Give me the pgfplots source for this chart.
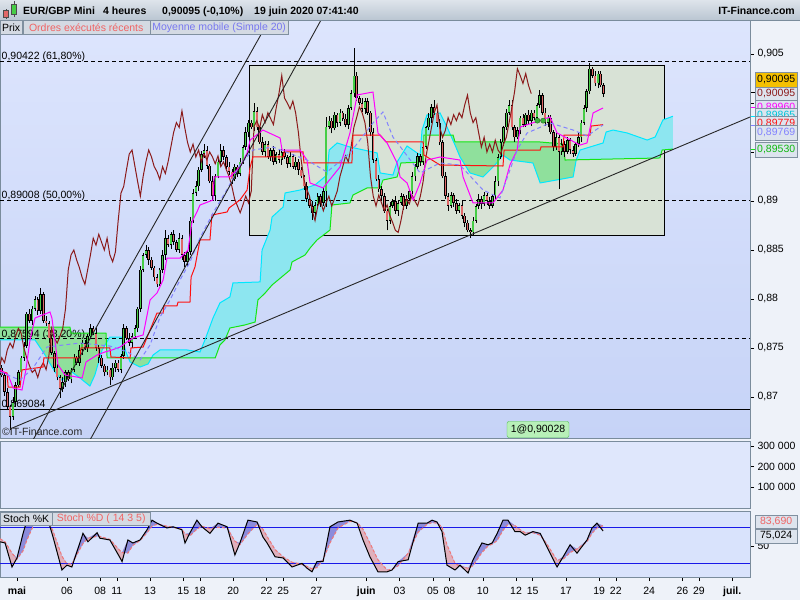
\documentclass[border=0pt]{standalone}
\usepackage{fontspec}
\setmainfont{Liberation Sans}
\usepackage{pgfplots}
\pgfplotsset{compat=1.18}
\usepackage{pgfplotstable}

\definecolor{outerbg}{RGB}{238,242,249}
\definecolor{hdrtop}{RGB}{222,228,235}
\definecolor{hdrbot}{RGB}{186,198,210}
\definecolor{panelborder}{RGB}{122,140,156}
\definecolor{bgtop}{RGB}{221,229,253}
\definecolor{bgbot}{RGB}{198,211,247}
\definecolor{volbg}{RGB}{223,231,252}
\definecolor{stochbg}{RGB}{217,227,252}
\definecolor{rectfill}{RGB}{216,226,214}
\definecolor{cloudcyan}{RGB}{141,230,240}
\definecolor{cloudgreen}{RGB}{143,224,156}
\definecolor{spanAcol}{RGB}{0,232,255}
\definecolor{spanBcol}{RGB}{20,230,20}
\definecolor{chikou}{RGB}{139,26,26}
\definecolor{kijun}{RGB}{255,16,16}
\definecolor{tenkan}{RGB}{255,0,255}
\definecolor{smacol}{RGB}{130,130,255}
\definecolor{cgreen}{RGB}{70,205,70}
\definecolor{cred}{RGB}{224,104,104}
\definecolor{stochblue}{RGB}{140,140,220}
\definecolor{stochpink}{RGB}{224,176,188}
\definecolor{stochD}{RGB}{240,120,120}
\definecolor{levelblue}{RGB}{24,24,232}
\definecolor{boxfill}{RGB}{221,228,238}
\definecolor{boxborder}{RGB}{128,144,160}
\definecolor{gold}{RGB}{245,192,0}
\definecolor{ordgreen}{RGB}{184,240,184}
\definecolor{ordgreenb}{RGB}{80,192,80}
\definecolor{dotgreen}{RGB}{60,180,60}
\definecolor{legred}{RGB}{240,100,100}
\definecolor{legblue}{RGB}{120,120,240}

\newcommand{\lab}{\fontsize{10.5pt}{12pt}\selectfont}

% 4h candles, k = candle index (0 = 1 May 00:00)
\pgfplotstableread{
k o h l c
-6 0.8730 0.8733 0.8720 0.8722
-5 0.8722 0.8724 0.8701 0.8705
-4 0.8705 0.8709 0.8687 0.8690
-3 0.8690 0.8692 0.8666 0.8680
-2 0.8680 0.8700 0.8677 0.8695
-1 0.8695 0.8715 0.8690 0.8712
0 0.8712 0.8728 0.8710 0.8725
1 0.8725 0.8742 0.8721 0.8740
2 0.8740 0.8756 0.8737 0.8752
3 0.8752 0.8787 0.8750 0.8785
4 0.8785 0.8790 0.8775 0.8778
5 0.8778 0.8793 0.8773 0.8790
6 0.8790 0.8803 0.8788 0.8800
7 0.8800 0.8802 0.8784 0.8788
8 0.8788 0.8811 0.8785 0.8805
9 0.8805 0.8807 0.8776 0.8778
10 0.8778 0.8783 0.8772 0.8775
11 0.8775 0.8778 0.8755 0.8760
12 0.8760 0.8763 0.8743 0.8745
13 0.8745 0.8747 0.8726 0.8730
14 0.8730 0.8734 0.8717 0.8720
15 0.8720 0.8722 0.8699 0.8708
16 0.8708 0.8720 0.8705 0.8715
17 0.8715 0.8728 0.8710 0.8725
18 0.8725 0.8728 0.8716 0.8718
19 0.8718 0.8730 0.8714 0.8728
20 0.8728 0.8744 0.8725 0.8740
21 0.8740 0.8742 0.8733 0.8735
22 0.8735 0.8753 0.8732 0.8748
23 0.8748 0.8758 0.8743 0.8755
24 0.8755 0.8758 0.8748 0.8750
25 0.8750 0.8764 0.8746 0.8762
26 0.8762 0.8774 0.8759 0.8770
27 0.8770 0.8772 0.8763 0.8765
28 0.8765 0.8770 0.8747 0.8750
29 0.8750 0.8753 0.8735 0.8740
30 0.8740 0.8743 0.8730 0.8732
31 0.8732 0.8734 0.8721 0.8725
32 0.8725 0.8732 0.8722 0.8728
33 0.8728 0.8730 0.8712 0.8720
34 0.8720 0.8735 0.8717 0.8730
35 0.8730 0.8738 0.8725 0.8735
36 0.8735 0.8738 0.8726 0.8728
37 0.8728 0.8744 0.8724 0.8742
38 0.8742 0.8774 0.8739 0.8770
39 0.8770 0.8772 0.8758 0.8760
40 0.8760 0.8765 0.8752 0.8755
41 0.8755 0.8765 0.8750 0.8762
42 0.8762 0.8773 0.8760 0.8770
43 0.8770 0.8792 0.8766 0.8790
44 0.8790 0.8834 0.8787 0.8830
45 0.8830 0.8847 0.8828 0.8845
46 0.8845 0.8855 0.8842 0.8850
47 0.8850 0.8853 0.8835 0.8840
48 0.8840 0.8843 0.8830 0.8832
49 0.8832 0.8834 0.8818 0.8822
50 0.8822 0.8826 0.8812 0.8815
51 0.8815 0.8832 0.8813 0.8830
52 0.8830 0.8850 0.8827 0.8845
53 0.8845 0.8870 0.8840 0.8862
54 0.8862 0.8865 0.8853 0.8855
55 0.8855 0.8868 0.8851 0.8866
56 0.8866 0.8870 0.8855 0.8858
57 0.8858 0.8860 0.8848 0.8850
58 0.8850 0.8867 0.8847 0.8862
59 0.8862 0.8865 0.8840 0.8845
60 0.8845 0.8848 0.8833 0.8838
61 0.8838 0.8850 0.8834 0.8848
62 0.8848 0.8884 0.8845 0.8880
63 0.8880 0.8912 0.8878 0.8908
64 0.8908 0.8920 0.8905 0.8915
65 0.8915 0.8935 0.8910 0.8932
66 0.8932 0.8951 0.8930 0.8948
67 0.8948 0.8958 0.8944 0.8952
68 0.8952 0.8956 0.8933 0.8936
69 0.8936 0.8938 0.8918 0.8920
70 0.8920 0.8925 0.8900 0.8905
71 0.8905 0.8928 0.8900 0.8925
72 0.8925 0.8943 0.8923 0.8940
73 0.8940 0.8958 0.8936 0.8952
74 0.8952 0.8956 0.8942 0.8945
75 0.8945 0.8947 0.8933 0.8935
76 0.8935 0.8940 0.8927 0.8930
77 0.8930 0.8933 0.8917 0.8922
78 0.8922 0.8938 0.8920 0.8935
79 0.8935 0.8937 0.8924 0.8928
80 0.8928 0.8944 0.8925 0.8940
81 0.8940 0.8957 0.8938 0.8955
82 0.8955 0.8975 0.8952 0.8970
83 0.8970 0.8983 0.8965 0.8980
84 0.8980 0.8983 0.8973 0.8975
85 0.8975 0.9000 0.8971 0.8992
86 0.8992 0.8996 0.8972 0.8975
87 0.8975 0.8977 0.8958 0.8960
88 0.8960 0.8965 0.8947 0.8950
89 0.8950 0.8961 0.8945 0.8958
90 0.8958 0.8961 0.8943 0.8945
91 0.8945 0.8954 0.8941 0.8952
92 0.8952 0.8956 0.8937 0.8940
93 0.8940 0.8950 0.8938 0.8948
94 0.8948 0.8953 0.8939 0.8942
95 0.8942 0.8953 0.8937 0.8950
96 0.8950 0.8953 0.8943 0.8945
97 0.8945 0.8947 0.8934 0.8938
98 0.8938 0.8950 0.8935 0.8946
99 0.8946 0.8948 0.8933 0.8935
100 0.8935 0.8945 0.8932 0.8940
101 0.8940 0.8943 0.8927 0.8932
102 0.8932 0.8935 0.8923 0.8925
103 0.8925 0.8927 0.8911 0.8915
104 0.8915 0.8919 0.8899 0.8902
105 0.8902 0.8904 0.8893 0.8895
106 0.8895 0.8900 0.8881 0.8888
107 0.8888 0.8899 0.8883 0.8896
108 0.8896 0.8908 0.8894 0.8905
109 0.8905 0.8907 0.8894 0.8898
110 0.8898 0.8914 0.8895 0.8910
111 0.8910 0.8986 0.8894 0.8976
112 0.8976 0.8987 0.8973 0.8982
113 0.8982 0.8985 0.8969 0.8974
114 0.8974 0.8991 0.8972 0.8988
115 0.8988 0.8990 0.8976 0.8980
116 0.8980 0.8994 0.8977 0.8990
117 0.8990 0.8992 0.8982 0.8984
118 0.8984 0.8989 0.8975 0.8978
119 0.8978 0.8998 0.8973 0.8995
120 0.8995 0.9013 0.8993 0.9010
121 0.9010 0.9056 0.9006 0.9028
122 0.9028 0.9032 0.9002 0.9005
123 0.9005 0.9007 0.8998 0.9000
124 0.9000 0.9005 0.8991 0.8994
125 0.8994 0.9005 0.8989 0.9002
126 0.9002 0.9005 0.8988 0.8990
127 0.8990 0.8992 0.8966 0.8970
128 0.8970 0.8974 0.8939 0.8942
129 0.8942 0.8944 0.8920 0.8922
130 0.8922 0.8927 0.8909 0.8912
131 0.8912 0.8915 0.8900 0.8905
132 0.8905 0.8908 0.8888 0.8890
133 0.8890 0.8892 0.8870 0.8880
134 0.8880 0.8899 0.8877 0.8895
135 0.8895 0.8902 0.8893 0.8900
136 0.8900 0.8905 0.8887 0.8890
137 0.8890 0.8901 0.8885 0.8898
138 0.8898 0.8908 0.8896 0.8905
139 0.8905 0.8907 0.8891 0.8895
140 0.8895 0.8906 0.8892 0.8902
141 0.8902 0.8912 0.8900 0.8910
142 0.8910 0.8930 0.8907 0.8925
143 0.8925 0.8938 0.8920 0.8935
144 0.8935 0.8949 0.8933 0.8946
145 0.8946 0.8948 0.8936 0.8940
146 0.8940 0.8959 0.8937 0.8955
147 0.8955 0.8977 0.8953 0.8975
148 0.8975 0.8990 0.8972 0.8985
149 0.8985 0.8999 0.8980 0.8996
150 0.8996 0.9003 0.8988 0.8990
151 0.8990 0.8992 0.8976 0.8980
152 0.8980 0.8984 0.8957 0.8960
153 0.8960 0.8962 0.8923 0.8925
154 0.8925 0.8930 0.8902 0.8905
155 0.8905 0.8908 0.8890 0.8895
156 0.8895 0.8909 0.8893 0.8906
157 0.8906 0.8908 0.8894 0.8898
158 0.8898 0.8902 0.8887 0.8890
159 0.8890 0.8898 0.8888 0.8896
160 0.8896 0.8901 0.8882 0.8885
161 0.8885 0.8888 0.8873 0.8878
162 0.8878 0.8881 0.8868 0.8870
163 0.8870 0.8872 0.8862 0.8868
164 0.8868 0.8884 0.8865 0.8880
165 0.8880 0.8897 0.8878 0.8895
166 0.8895 0.8907 0.8892 0.8902
167 0.8902 0.8905 0.8892 0.8897
168 0.8897 0.8909 0.8895 0.8906
169 0.8906 0.8908 0.8896 0.8900
170 0.8900 0.8904 0.8892 0.8895
171 0.8895 0.8907 0.8893 0.8905
172 0.8905 0.8925 0.8902 0.8920
173 0.8920 0.8948 0.8915 0.8945
174 0.8945 0.8963 0.8943 0.8960
175 0.8960 0.8977 0.8956 0.8975
176 0.8975 0.8994 0.8972 0.8990
177 0.8990 0.9003 0.8988 0.8998
178 0.8998 0.9003 0.8972 0.8975
179 0.8975 0.8978 0.8960 0.8965
180 0.8965 0.8975 0.8963 0.8972
181 0.8972 0.8987 0.8968 0.8985
182 0.8985 0.8989 0.8975 0.8978
183 0.8978 0.8990 0.8976 0.8988
184 0.8988 0.8993 0.8979 0.8982
185 0.8982 0.8993 0.8977 0.8990
186 0.8990 0.8993 0.8983 0.8985
187 0.8985 0.9000 0.8981 0.8998
188 0.8998 0.9013 0.8995 0.9008
189 0.9008 0.9010 0.8988 0.8990
190 0.8990 0.8995 0.8977 0.8980
191 0.8980 0.8988 0.8975 0.8985
192 0.8985 0.8988 0.8968 0.8970
193 0.8970 0.8972 0.8951 0.8955
194 0.8955 0.8969 0.8952 0.8965
195 0.8965 0.8967 0.8912 0.8950
196 0.8950 0.8963 0.8947 0.8958
197 0.8958 0.8961 0.8945 0.8950
198 0.8950 0.8965 0.8948 0.8962
199 0.8962 0.8964 0.8948 0.8952
200 0.8952 0.8956 0.8945 0.8948
201 0.8948 0.8960 0.8946 0.8958
202 0.8958 0.8970 0.8955 0.8965
203 0.8965 0.8983 0.8960 0.8980
204 0.8980 0.8998 0.8978 0.8995
205 0.8995 0.9014 0.8991 0.9012
206 0.9012 0.9041 0.9009 0.9035
207 0.9035 0.9037 0.9026 0.9028
208 0.9028 0.9033 0.9017 0.9020
209 0.9020 0.9033 0.9015 0.9030
210 0.9030 0.9033 0.9016 0.9018
211 0.9018 0.9020 0.9006 0.90095
}\candles

% Kijun (red)
\pgfplotstableread{
k p
-6.6 0.87265
-4.1 0.87245
-3.7 0.87102
0.6 0.87102
1.3 0.87276
8.9 0.87306
9.2 0.87398
22.2 0.87398
22.6 0.87500
33.0 0.87500
33.4 0.87408
40.3 0.87398
40.6 0.87500
45.0 0.87510
47.5 0.87684
50.0 0.87857
52.2 0.87857
52.5 0.87929
57.2 0.87929
57.6 0.87969
61.9 0.87969
62.3 0.88224
63.7 0.88327
65.5 0.88602
69.1 0.88602
69.8 0.88857
75.3 0.88888
76.0 0.88929
79.9 0.89010
82.5 0.89112
83.6 0.89347
84.6 0.89449
95.5 0.89449
95.8 0.89500
102.7 0.89500
103.0 0.89388
120.3 0.89388
120.7 0.89673
130.5 0.89673
132.6 0.89602
146.0 0.89602
146.3 0.89469
152.1 0.89367
174.8 0.89357
175.2 0.89520
188.2 0.89520
188.5 0.89551
196.5 0.89551
196.8 0.89673
206.2 0.89673
206.6 0.89765
210.9 0.89779
}\kijun

% Tenkan (magenta)
\pgfplotstableread{
k p
-6.6 0.87276
-3.7 0.87225
-1.9 0.87092
1.3 0.87071
2.7 0.87276
4.2 0.87582
6.0 0.87806
11.4 0.87867
12.1 0.87806
14.3 0.87327
16.8 0.87225
23.0 0.87194
24.4 0.87357
28.4 0.87429
31.2 0.87459
33.8 0.87480
36.7 0.87510
39.2 0.87561
41.3 0.87602
45.0 0.87633
47.5 0.87990
50.0 0.88061
52.2 0.88194
53.6 0.88418
58.3 0.88418
61.2 0.88500
62.6 0.88786
64.4 0.88888
65.5 0.88959
70.2 0.89010
70.6 0.89245
76.3 0.89245
79.9 0.89347
82.5 0.89490
83.6 0.89622
88.2 0.89724
94.4 0.89643
95.1 0.89520
101.6 0.89520
104.1 0.89418
105.2 0.89184
109.9 0.89133
116.0 0.89347
119.6 0.89694
122.2 0.90082
127.9 0.90112
129.7 0.89694
133.0 0.89592
136.6 0.89388
137.7 0.89245
140.2 0.89184
142.4 0.89010
144.9 0.89184
147.4 0.89418
152.1 0.89449
159.3 0.89418
160.4 0.89245
164.0 0.88980
171.2 0.88980
174.8 0.89112
177.3 0.89367
179.9 0.89520
181.0 0.89755
191.8 0.89857
194.3 0.89694
202.6 0.89571
205.1 0.89592
207.3 0.89898
210.9 0.89949
}\tenkan

% SMA 20 (dashed)
\pgfplotstableread{
k p
-6.6 0.87255
0.6 0.87173
5.3 0.87296
10.3 0.87510
22.2 0.87551
33.0 0.87520
39.5 0.87459
43.9 0.87378
47.5 0.87531
51.1 0.87816
54.7 0.87990
58.3 0.88194
61.9 0.88378
65.5 0.88622
70.2 0.88878
75.6 0.89133
79.9 0.89367
84.6 0.89520
91.8 0.89551
104.1 0.89418
111.3 0.89296
119.6 0.89490
127.9 0.89796
131.5 0.89908
135.1 0.89653
144.9 0.89286
152.1 0.89388
159.3 0.89367
167.6 0.89112
173.7 0.89031
179.9 0.89520
183.5 0.89694
191.8 0.89796
200.1 0.89724
205.1 0.89663
210.9 0.89776
}\smaline

% Senkou span A (cyan)
\pgfplotstableread{
k p
-6.6 0.87582
6.0 0.87582
9.6 0.87429
13.2 0.87255
15.7 0.87173
19.3 0.87255
22.2 0.87194
25.8 0.87112
27.6 0.87225
30.2 0.87480
33.0 0.87612
37.4 0.87612
38.8 0.87459
40.3 0.87357
43.9 0.87306
46.8 0.87337
48.6 0.87429
51.1 0.87480
60.8 0.87480
65.5 0.87459
67.3 0.87582
70.2 0.87806
72.7 0.87960
76.3 0.88021
77.4 0.88164
87.2 0.88174
87.9 0.88500
90.8 0.88704
91.5 0.88837
95.5 0.88939
96.2 0.89082
101.6 0.89112
107.0 0.89164
111.3 0.89265
112.1 0.89520
115.0 0.89592
119.6 0.89551
129.4 0.89490
130.5 0.89286
135.1 0.89265
136.6 0.89398
140.2 0.89561
144.9 0.89469
145.6 0.89724
147.4 0.89878
152.1 0.89898
154.6 0.89755
157.5 0.89571
159.3 0.89449
162.9 0.89286
167.6 0.89245
171.9 0.89367
174.8 0.89469
177.3 0.89418
185.6 0.89388
188.2 0.89184
200.1 0.89245
201.2 0.89418
202.6 0.89520
210.9 0.89592
212.0 0.89704
214.5 0.89724
219.6 0.89694
226.8 0.89622
229.7 0.89653
232.5 0.89827
236.1 0.89865
}\spanA

% Senkou span B (green)
\pgfplotstableread{
k p
-6.6 0.87714
18.6 0.87714
19.0 0.87653
31.6 0.87653
32.0 0.87398
71.0 0.87398
72.7 0.87531
74.5 0.87582
76.3 0.87704
81.7 0.87735
85.4 0.87765
86.4 0.87990
89.0 0.88061
91.5 0.88143
98.0 0.88296
98.7 0.88378
103.4 0.88449
105.2 0.88520
107.7 0.88602
112.4 0.88704
113.1 0.88959
119.6 0.88980
120.7 0.89061
125.8 0.89133
130.5 0.89133
131.5 0.89214
136.6 0.89245
138.0 0.89388
146.0 0.89398
146.3 0.89673
156.8 0.89673
157.5 0.89602
188.2 0.89602
196.5 0.89582
197.2 0.89418
231.4 0.89439
232.2 0.89520
236.1 0.89530
}\spanB

% Stochastic %K and %D
\pgfplotstableread{
k K D
-6.6 57 62
-4.8 55 57
-2.3 15 38
-0.5 30 28
1.7 71 42
3.1 93 60
6.0 97 90
8.5 95 94
10.7 93 91
12.5 65 75
15.7 10 33
17.5 18 20
19.3 15 20
23.3 71 54
25.1 57 63
28.4 72 66
29.4 63 66
33.0 60 61
36.7 30 42
37.4 24 39
39.5 60 38
41.3 55 51
43.9 60 59
46.4 77 72
48.2 93 83
50.0 88 86
53.6 80 83
55.8 82 81
59.0 77 78
60.1 55 70
61.9 72 67
64.4 93 78
66.2 82 83
69.1 71 79
72.0 88 81
75.3 82 80
78.1 35 58
79.9 55 52
82.8 93 70
86.1 90 86
88.2 65 78
89.7 55 66
92.6 32 44
95.5 30 32
98.7 15 23
102.3 21 19
104.1 13 16
105.9 7 12
107.7 24 14
109.9 24 27
112.4 82 55
115.3 90 80
119.6 93 91
122.2 88 89
124.3 60 78
126.8 32 55
129.7 7 27
133.0 7 10
134.8 10 11
137.0 24 17
140.6 27 38
144.2 88 73
147.4 88 86
149.2 93 89
151.0 90 88
152.8 74 82
154.6 18 52
157.5 10 21
159.3 18 16
162.2 5 13
164.0 27 17
167.2 55 39
169.4 52 50
170.9 55 53
172.7 71 59
174.8 93 76
176.6 93 86
179.1 74 84
181.0 74 77
182.8 68 72
185.6 74 72
188.2 71 68
190.7 48 53
194.3 15 26
196.5 32 28
199.0 52 39
201.5 38 45
205.1 60 57
206.9 80 71
208.7 88 80
210.9 75 84
}\stoch

\pgfplotsset{
  stochframe/.style={
    at={(0pt,23pt)}, anchor=south west,
    scale only axis, width=750pt, height=66pt,
    xmin=-6.63, xmax=263.9, ymin=-1.7, ymax=108.3},
}

\begin{document}
\begin{tikzpicture}
\path[use as bounding box] (0pt,0pt) rectangle (800pt,600pt);
\fill[outerbg] (0pt,0pt) rectangle (800pt,600pt);

% ---------- price panel ----------
\begin{axis}[
  at={(0pt,162pt)}, anchor=south west,
  scale only axis, width=750pt, height=418pt,
  xmin=-6.63, xmax=263.9, ymin=0.865816, ymax=0.908469,
  axis background/.style={shade, top color=bgtop, bottom color=bgbot},
  axis line style={draw=panelborder, line width=1pt},
  xtick=\empty,
  ytick pos=right, tick align=outside, major tick length=4pt,
  tick style={black, line width=0.5pt},
  ytick={0.87,0.875,0.88,0.885,0.89,0.895,0.9,0.905},
  yticklabels={{0,87},{0,875},{0,88},{0,885},{0,89},{0,895},{0,9},{0,905}},
  yticklabel style={font=\lab, text=black},
]
% rectangle zone
\addplot[fill=rectfill, draw=black, line width=0.9pt]
  coordinates {(83.2,0.886531) (232.9,0.886531) (232.9,0.903878) (83.2,0.903878) (83.2,0.886531)};
% ichimoku cloud, one polygon per region between the crossings of span A and span B
\addplot[fill=cloudgreen, draw=none] coordinates {
  (-6.6,0.87714) (18.6,0.87714) (19.0,0.87653) (31.6,0.87653) (31.76,0.87554)
  (30.2,0.87480) (27.6,0.87225) (25.8,0.87112) (22.2,0.87194) (19.3,0.87255) (15.7,0.87173)
  (13.2,0.87255) (9.6,0.87429) (6.0,0.87582) (-6.6,0.87582)};
\addplot[fill=cloudcyan, draw=none] coordinates {
  (31.76,0.87554) (33.0,0.87612) (37.4,0.87612) (38.8,0.87459) (39.70,0.87398) (32.0,0.87398)};
\addplot[fill=cloudgreen, draw=none] coordinates {
  (39.70,0.87398) (47.99,0.87398) (46.8,0.87337) (43.9,0.87306) (40.3,0.87357)};
\addplot[fill=cloudcyan, draw=none] coordinates {
  (47.99,0.87398) (48.6,0.87429) (51.1,0.87480) (60.8,0.87480) (65.5,0.87459) (67.3,0.87582)
  (70.2,0.87806) (72.7,0.87960) (76.3,0.88021) (77.4,0.88164) (87.2,0.88174) (87.9,0.88500)
  (90.8,0.88704) (91.5,0.88837) (95.5,0.88939) (96.2,0.89082) (101.6,0.89112) (107.0,0.89164)
  (111.3,0.89265) (112.1,0.89520) (115.0,0.89592) (119.6,0.89551) (129.4,0.89490) (130.5,0.89286)
  (135.1,0.89265) (136.6,0.89398) (140.2,0.89561) (144.9,0.89469) (145.6,0.89724) (147.4,0.89878)
  (152.1,0.89898) (154.6,0.89755) (155.89,0.89673)
  (146.3,0.89673) (146.0,0.89398) (138.0,0.89388) (136.6,0.89245) (131.5,0.89214) (130.5,0.89133)
  (125.8,0.89133) (120.7,0.89061) (119.6,0.88980) (113.1,0.88959) (112.4,0.88704) (107.7,0.88602)
  (105.2,0.88520) (103.4,0.88449) (98.7,0.88378) (98.0,0.88296) (91.5,0.88143) (89.0,0.88061)
  (86.4,0.87990) (85.4,0.87765) (81.7,0.87735) (76.3,0.87704) (74.5,0.87582) (72.7,0.87531)
  (71.0,0.87398)};
\addplot[fill=cloudgreen, draw=none] coordinates {
  (155.89,0.89673) (156.8,0.89673) (157.5,0.89602) (188.2,0.89602) (196.5,0.89582) (197.2,0.89418)
  (201.23,0.89420) (200.1,0.89245) (188.2,0.89184) (185.6,0.89388) (177.3,0.89418) (174.8,0.89469)
  (171.9,0.89367) (167.6,0.89245) (162.9,0.89286) (159.3,0.89449) (157.5,0.89571)};
\addplot[fill=cloudcyan, draw=none] coordinates {
  (201.23,0.89420) (202.6,0.89520) (210.9,0.89592) (212.0,0.89704) (214.5,0.89724) (219.6,0.89694)
  (226.8,0.89622) (229.7,0.89653) (232.5,0.89827) (236.1,0.89865) (236.1,0.89530) (232.2,0.89520)
  (231.4,0.89439)};
% fibonacci / support lines
\addplot[black, line width=0.8pt, dash pattern=on 4pt off 3pt] coordinates {(-6.63,0.90422) (263.9,0.90422)};
\addplot[black, line width=0.8pt, dash pattern=on 4pt off 3pt] coordinates {(-6.63,0.89008) (263.9,0.89008)};
\addplot[black, line width=0.8pt, dash pattern=on 4pt off 3pt] coordinates {(-6.63,0.87594) (263.9,0.87594)};
\addplot[black, line width=0.8pt] coordinates {(-6.63,0.86878) (263.9,0.86878)};
\node[anchor=base west, inner sep=0pt, font=\lab] at (axis cs:-6.09,0.90439) {0,90422 (61,80\%)};
\node[anchor=base west, inner sep=0pt, font=\lab] at (axis cs:-6.09,0.89025) {0,89008 (50,00\%)};
\node[anchor=base west, inner sep=0pt, font=\lab] at (axis cs:-6.09,0.87612) {0,87594 (38,20\%)};
\node[anchor=base west, inner sep=0pt, font=\lab] at (axis cs:-6.09,0.86893) {0,869084};
% span lines
\addplot[spanAcol, line width=1pt] table[x=k,y=p]{\spanA};
\addplot[spanBcol, line width=1pt] table[x=k,y=p]{\spanB};
% candles: wicks, outlines, bodies (vertical quiver segments)
\addplot[black, line width=0.6pt, quiver={u=0, v=\thisrow{h}-\thisrow{l}}]
  table[x=k, y=l]{\candles};
\addplot[black, line width=2.5pt, quiver={u=0, v={abs(\thisrow{c}-\thisrow{o})}}]
  table[x=k, y expr={min(\thisrow{o},\thisrow{c})}]{\candles};
\addplot[cgreen, line width=1.4pt, quiver={u=0, v={max(\thisrow{c}-\thisrow{o}-0.00014,0)}}]
  table[x=k, y expr=\thisrow{o}+0.00007]{\candles};
\addplot[cred, line width=1.4pt, quiver={u=0, v={max(\thisrow{o}-\thisrow{c}-0.00014,0)}}]
  table[x=k, y expr=\thisrow{c}+0.00007]{\candles};
% chikou: close shifted 26 periods back
\addplot[chikou, line width=1pt] table[x expr=\thisrow{k}-26, y=c]{\candles};
% kijun, tenkan, sma
\addplot[kijun, line width=1pt] table[x=k,y=p]{\kijun};
\addplot[tenkan, line width=1pt] table[x=k,y=p]{\tenkan};
\addplot[smacol, line width=1pt, dash pattern=on 4pt off 3pt] table[x=k,y=p]{\smaline};
% trend lines
\addplot[black!85, line width=0.9pt] coordinates {(5.27,0.865612) (90.05,0.908265)};
\addplot[black!85, line width=0.9pt] coordinates {(25.83,0.865612) (109.17,0.908469)};
\addplot[black!85, line width=0.9pt] coordinates {(-3.03,0.866735) (263.93,0.898571)};
% executed orders
\addplot[only marks, mark=*, mark size=2.6pt, mark options={fill=dotgreen, draw=dotgreen!60!black}]
  coordinates {(187.2,0.8982) (189.3,0.8982)};
\end{axis}

% ---------- volume panel ----------
\begin{axis}[
  at={(0pt,92pt)}, anchor=south west,
  scale only axis, width=750pt, height=67pt,
  xmin=-6.63, xmax=263.9, ymin=-2400, ymax=324400,
  scaled y ticks=false,
  axis background/.style={fill=volbg},
  axis line style={draw=panelborder, line width=1pt},
  xtick=\empty,
  ytick pos=right, tick align=outside, major tick length=4pt,
  tick style={black, line width=0.5pt},
  ytick={100000,200000,300000},
  yticklabels={{100 000},{200 000},{300 000}},
  yticklabel style={font=\lab, text=black},
]
\addplot[draw=none] coordinates {(0,0)};
\end{axis}

% ---------- stochastic panel ----------
% frame, ticks and the %D-above-%K area (stacked on %K)
\begin{axis}[
  stochframe, stack plots=y,
  axis background/.style={fill=stochbg},
  axis line style={draw=panelborder, line width=1pt},
  xtick pos=bottom, ytick pos=right, tick align=outside, major tick length=4pt,
  tick style={black, line width=0.5pt},
  xtick={-0.5,17.5,29.5,35.5,47.5,59.5,65.5,77.5,89.5,95.5,107.5,125.5,137.5,149.5,155.5,167.5,179.5,185.5,197.5,209.5,215.5,227.5,239.5,245.5,257.5},
  xticklabels={\textbf{mai},06,08,11,13,15,18,20,22,25,27,\textbf{juin},03,05,08,10,12,15,17,19,22,24,26,29,\textbf{juil.}},
  xticklabel style={font=\lab, text height=8pt, text depth=2pt, yshift=-2pt},
  ytick={50}, yticklabels={50},
  yticklabel style={font=\lab, text=black},
]
\addplot[draw=none] table[x=k, y=K]{\stoch};
\addplot[draw=none, fill=stochpink] table[x=k, y expr={max(\thisrow{D}-\thisrow{K},0)}]{\stoch} \closedcycle;
\end{axis}
% %K-above-%D area (stacked on %D)
\begin{axis}[stochframe, hide axis, stack plots=y]
\addplot[draw=none] table[x=k, y=D]{\stoch};
\addplot[draw=none, fill=stochblue] table[x=k, y expr={max(\thisrow{K}-\thisrow{D},0)}]{\stoch} \closedcycle;
\end{axis}
% levels and lines
\begin{axis}[stochframe, hide axis]
\addplot[levelblue, line width=1pt] coordinates {(-6.63,80) (263.9,80)};
\addplot[levelblue, line width=1pt] coordinates {(-6.63,20) (263.9,20)};
\addplot[stochD, line width=1pt, dash pattern=on 3pt off 2pt] table[x=k,y=D]{\stoch};
\addplot[black, line width=1pt] table[x=k,y=K]{\stoch};
\end{axis}

% ---------- decorations ----------
\begin{scope}[x=1pt, y=1pt]
% header bar
\shade[top color=hdrtop, bottom color=hdrbot] (0,580) rectangle (800,600);
\draw[panelborder, line width=0.8pt] (0,580) -- (800,580);
\draw[black!70, line width=0.6pt] (6,581) -- (6,591);
\fill[cred, draw=black!70, line width=0.5pt] (3.5,583) rectangle (8.5,590);
\draw[black!70, line width=0.6pt] (14,583) -- (14,598.5);
\fill[cgreen, draw=black!70, line width=0.5pt] (11.5,586) rectangle (16.5,596);
\node[anchor=base west, inner sep=0pt, font=\lab\bfseries] at (23,585) {EUR/GBP Mini};
\node[anchor=base west, inner sep=0pt, font=\lab\bfseries] at (103,585) {4 heures};
\node[anchor=base west, inner sep=0pt, font=\lab\bfseries] at (162,585) {0,90095 (-0,10\%)};
\node[anchor=base west, inner sep=0pt, font=\lab\bfseries] at (254,585) {19 juin 2020 07:41:40};
\node[anchor=base east, inner sep=0pt, font=\lab\bfseries] at (795,585) {IT-Finance.com};
% legend boxes of the price panel
\node[draw=boxborder, fill=boxfill!90!gray, anchor=north west, minimum width=22pt, minimum height=13.5pt, inner sep=0pt, font=\lab] at (0,579.5) {Prix};
\node[draw=boxborder, fill=boxfill!90!gray, anchor=north west, minimum width=127pt, minimum height=13.5pt, inner sep=0pt, font=\lab, text=legred] at (22.5,579.5) {Ordres exécutés récents};
\node[draw=boxborder, fill=boxfill!90!gray, anchor=north west, minimum width=138pt, minimum height=13.5pt, inner sep=0pt, font=\lab, text=legblue] at (150,579.5) {Moyenne mobile (Simple 20)};
% copyright and order label
\node[anchor=base west, inner sep=0pt, font=\lab, text=black!85] at (2,164.5) {©IT-Finance.com};
\node[draw=ordgreenb, fill=ordgreen, rounded corners=2pt, minimum width=62pt, minimum height=16pt, inner sep=0pt, font=\lab] at (538,170.5) {1@0,90028};
% right value boxes
\draw[black, line width=1pt] (751,507) -- (755,507);
\draw[tenkan, line width=1pt] (751,492) -- (755,492);
\draw[spanAcol, line width=1pt] (751,483) -- (755,483);
\draw[smacol, line width=1pt] (751,474) -- (755,474);
\draw[spanBcol, line width=1pt] (751,450) -- (755,450);
\tikzset{rbox/.style={draw=boxborder, fill=boxfill, anchor=west, minimum width=42pt, minimum height=14.5pt, inner sep=0pt, font=\lab}}
\node[rbox, fill=gold] at (755,520.5) {0,90095};
\node[rbox, text=chikou] at (755,506) {0,90095};
\node[rbox, text=tenkan] at (755,492.5) {0,89960};
\node[rbox, text=spanAcol!85!black] at (755,484.5) {0,89865};
\node[rbox, text=kijun] at (755,476.5) {0,89779};
\node[rbox, text=smacol] at (755,467.5) {0,89769};
\node[rbox, text=spanBcol!80!black] at (755,450.5) {0,89530};
% stochastic legend and values
\node[draw=boxborder, fill=boxfill!90!gray, anchor=north west, minimum width=52pt, minimum height=13pt, inner sep=0pt, font=\lab] at (0,88) {Stoch \%K};
\node[draw=boxborder, fill=boxfill!90!gray, anchor=north west, minimum width=98pt, minimum height=13pt, inner sep=0pt, font=\lab, text=legred] at (52,88) {Stoch \%D ( 14 3 5)};
\node[rbox, minimum height=13.5pt, text=legred] at (755,78.5) {83,690};
\node[rbox, text=black] at (755,64) {75,024};
\end{scope}
\end{tikzpicture}
\end{document}
